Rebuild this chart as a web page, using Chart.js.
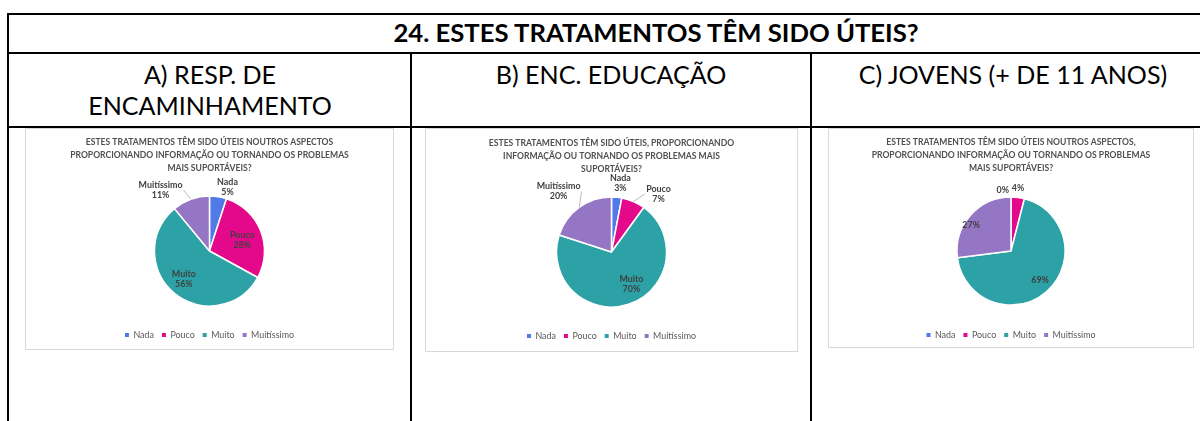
<!DOCTYPE html>
<html><head><meta charset="utf-8">
<script src="https://cdn.jsdelivr.net/npm/chart.js@4.4.1/dist/chart.umd.min.js"></script>
<style>
html,body{margin:0;padding:0;background:#fff;width:1200px;height:421px;overflow:hidden;position:relative;}
.ln{position:absolute;background:#000;}
.txt{position:absolute;white-space:nowrap;transform:translate(-50%,-50%);color:#000;line-height:1;}
.box{position:absolute;border:1px solid #d9d9d9;background:#fff;box-sizing:border-box;}
.box canvas{display:block;}
</style></head><body>
<script>
// ---------- DATA ----------
const categories = ['Nada', 'Pouco', 'Muito', 'Muitíssimo'];
const respEncaminhamento = [5, 28, 56, 11];
const encEducacao = [3, 7, 70, 20];
const jovens = [0, 4, 69, 27];
const tableTitle = '24. ESTES TRATAMENTOS TÊM SIDO ÚTEIS?';
const headingA = ['A) RESP. DE', 'ENCAMINHAMENTO'];
const headingB = ['B) ENC. EDUCAÇÃO'];
const headingC = ['C) JOVENS (+ DE 11 ANOS)'];
const titleA = ['ESTES TRATAMENTOS TÊM SIDO ÚTEIS NOUTROS ASPECTOS', 'PROPORCIONANDO INFORMAÇÃO OU TORNANDO OS PROBLEMAS', 'MAIS SUPORTÁVEIS?'];
const titleB = ['ESTES TRATAMENTOS TÊM SIDO ÚTEIS, PROPORCIONANDO', 'INFORMAÇÃO OU TORNANDO OS PROBLEMAS MAIS', 'SUPORTÁVEIS?'];
const titleC = ['ESTES TRATAMENTOS TÊM SIDO ÚTEIS NOUTROS ASPECTOS,', 'PROPORCIONANDO INFORMAÇÃO OU TORNANDO OS PROBLEMAS', 'MAIS SUPORTÁVEIS?'];

// ---------- STYLE ----------
const FAMILY = 'Lato, "Open Sans", sans-serif';
const sliceColors = ['#4f7ae8', '#e4088a', '#2ca1a6', '#9576c4'];
const meas = document.createElement('canvas').getContext('2d');
function fit(text, weight, target) {
  meas.font = weight + ' 100px ' + FAMILY;
  return 100 * target / meas.measureText(text).width;
}
const headerSize = fit(tableTitle, 'bold', 527);
const subSize = fit(headingC[0], 'normal', 310);
const titleSize = fit(titleA[1], 'bold', 279);
const legendSize = fit('Muitíssimo', 'normal', 43);
const labelSize = fit('Muitíssimo', 'bold', 44);

// table lines
function line(l, t, w, h) {
  const d = document.createElement('div'); d.className = 'ln';
  Object.assign(d.style, {left: l + 'px', top: t + 'px', width: w + 'px', height: h + 'px'});
  document.body.appendChild(d);
}
line(7, 13, 1300, 2);
line(7, 13, 2, 500);
line(7, 52, 1300, 2);
line(7, 126, 1300, 2);
line(410, 52, 2, 400);
line(810, 52, 2, 400);

function text(str, x, y, size, weight) {
  const d = document.createElement('div'); d.className = 'txt'; d.textContent = str;
  Object.assign(d.style, {left: x + 'px', top: y + 'px', fontSize: size + 'px', fontWeight: weight, fontFamily: FAMILY});
  document.body.appendChild(d);
}
text(tableTitle, 656, 33, headerSize, 'bold');
text(headingA[0], 210, 75, subSize, 'normal');
text(headingA[1], 210, 106, subSize, 'normal');
text(headingB[0], 611, 75, subSize, 'normal');
text(headingC[0], 1013, 75, subSize, 'normal');

// data label plugin
const pieLabels = {
  id: 'pieLabels',
  afterDatasetsDraw(chart, args, opts) {
    const ctx = chart.ctx;
    const meta = chart.getDatasetMeta(0);
    const ds = chart.data.datasets[0];
    const lh = opts.lineHeight;
    ctx.save();
    ctx.font = 'bold ' + opts.size + 'px ' + FAMILY;
    ctx.textAlign = 'center'; ctx.textBaseline = 'middle';
    meta.data.forEach((arc, i) => {
      const st = opts.styles[i];
      const p = arc.getProps(['x', 'y', 'startAngle', 'endAngle', 'outerRadius'], true);
      const mid = (p.startAngle + p.endAngle) / 2;
      const a = mid + st.da * Math.PI / 180;
      const lx = p.x + Math.cos(a) * p.outerRadius * st.r;
      const ly = p.y + Math.sin(a) * p.outerRadius * st.r;
      const lines = st.name ? [chart.data.labels[i], ds.data[i] + '%'] : [ds.data[i] + '%'];
      const w = Math.max(...lines.map(s => ctx.measureText(s).width));
      if (st.leader) {
        const ex = p.x + Math.cos(mid) * p.outerRadius, ey = p.y + Math.sin(mid) * p.outerRadius;
        const tx = lx < p.x ? lx + w / 2 + 1 : lx - w / 2 - 1;
        ctx.strokeStyle = '#a6a6a6'; ctx.lineWidth = 0.75;
        ctx.beginPath(); ctx.moveTo(ex, ey); ctx.lineTo(tx, ly); ctx.stroke();
      }
      ctx.fillStyle = '#404040';
      lines.forEach((s, k) => ctx.fillText(s, lx, ly + (k - (lines.length - 1) / 2) * lh));
    });
    ctx.restore();
  }
};

function makePanel(cfg) {
  const box = document.createElement('div'); box.className = 'box';
  Object.assign(box.style, {left: cfg.x + 'px', top: cfg.y + 'px', width: cfg.w + 'px', height: cfg.h + 'px'});
  const cv = document.createElement('canvas');
  const W = cfg.w - 2, H = cfg.h - 2;
  cv.width = W; cv.height = H; cv.style.width = W + 'px'; cv.style.height = H + 'px';
  box.appendChild(cv); document.body.appendChild(box);
  const top0 = cfg.y + 1;
  const LH = 13;
  const cyRel = cfg.cy - top0, legRel = cfg.legendY - top0, t1Rel = cfg.title1Y - top0;
  const itemH = Math.max(legendSize, 4);
  const padB = H - legRel - 10 - itemH / 2;
  const legPad = 8;
  const legendTop = H - padB - (itemH + legPad + 10);
  const titleBottom = 2 * cyRel - legendTop;
  const tPadTop = t1Rel - LH / 2;
  const tPadBottom = titleBottom - tPadTop - 3 * LH;
  const defaultGen = Chart.overrides.pie.plugins.legend.labels.generateLabels;
  new Chart(cv, {
    type: 'pie',
    data: {labels: categories, datasets: [{data: cfg.values, backgroundColor: sliceColors, borderColor: '#ffffff', borderWidth: 1.5, radius: cfg.r}]},
    plugins: [pieLabels],
    options: {
      responsive: false, animation: false, events: [],
      layout: {padding: {top: 0, bottom: padB, left: 0, right: 0}},
      plugins: {
        tooltip: {enabled: false},
        title: {display: true, text: cfg.title, color: '#505050',
          font: {family: FAMILY, size: titleSize, weight: 'bold', lineHeight: LH / titleSize},
          padding: {top: tPadTop, bottom: tPadBottom}},
        legend: {position: 'bottom', align: 'center',
          labels: {boxWidth: 4, boxHeight: 4, padding: legPad, color: '#595959',
            font: {family: FAMILY, size: legendSize},
            generateLabels: (ch) => defaultGen(ch).map(it => Object.assign(it, {lineWidth: 0, strokeStyle: 'rgba(0,0,0,0)'}))}},
        pieLabels: {size: labelSize, lineHeight: 10, styles: cfg.labelStyles}
      }
    }
  });
}

makePanel({x: 25, y: 128, w: 369, h: 222, cy: 251, r: 55, legendY: 335, title1Y: 142, title: titleA, values: respEncaminhamento,
  labelStyles: [{r: 1.21, da: 6.7, name: true}, {r: 0.63, da: 3, name: true}, {r: 0.69, da: 3, name: true}, {r: 1.42, da: -19, name: true, leader: true}]});
makePanel({x: 425, y: 128, w: 373, h: 224, cy: 252, r: 55, legendY: 336, title1Y: 143, title: titleB, values: encEducacao,
  labelStyles: [{r: 1.26, da: 2, name: true}, {r: 1.36, da: 15.6, name: true, leader: true}, {r: 0.69, da: -13.6, name: true}, {r: 1.46, da: -5.2, name: true, leader: true}]});
makePanel({x: 828, y: 128, w: 366, h: 220, cy: 251, r: 54, legendY: 335, title1Y: 142, title: titleC, values: jovens,
  labelStyles: [{r: 1.14, da: -7.7}, {r: 1.17, da: -0.8}, {r: 0.76, da: -3.6}, {r: 0.88, da: -8.4}]});
</script>
</body></html>
